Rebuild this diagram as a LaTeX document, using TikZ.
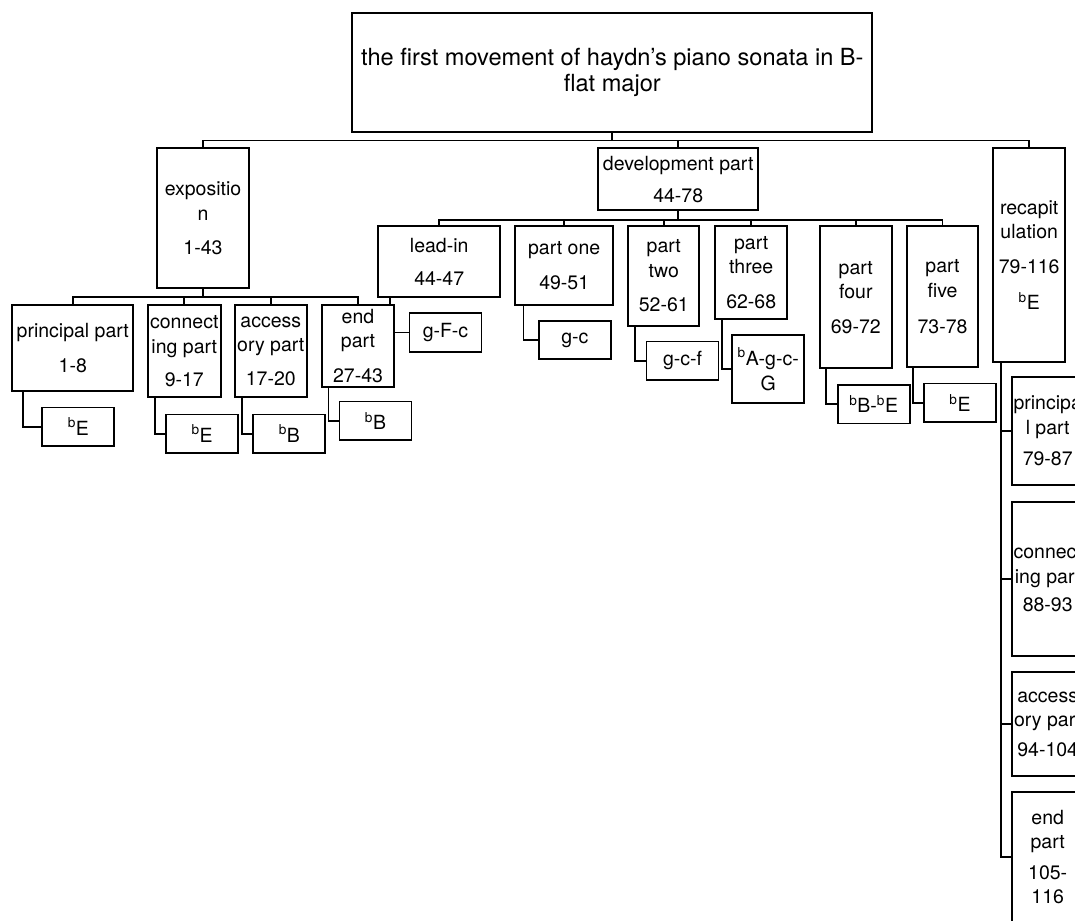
\documentclass[tikz,border=0pt]{standalone}
\usepackage{fontspec}
\setmainfont{TeX Gyre Heros}
\usetikzlibrary{backgrounds}
\tikzset{
    box/.style={draw, fill=white, line width=1.8pt, align=center, inner sep=0pt,
        font=\fontsize{19.5}{24.5}\selectfont},
    keybox/.style={box, minimum width=72pt, minimum height=38.5pt},
    link/.style={line width=1.8pt}}
\newcommand{\fl}[1]{\textsuperscript{b}#1}

\begin{document}
\begin{tikzpicture}[x=1pt, y=-1pt]
                
                    \path[use as bounding box] (0,0) rectangle (1075,920);
                    \clip (0,0) rectangle (1075,920);
                
                    \node[box, minimum width=520pt, minimum height=119pt, font=\fontsize{23.6}{26}\selectfont] (title) at (612.3,72.2) {the first movement of haydn’s piano sonata in B-\\flat major};
                    \node[box, minimum width=91.4pt, minimum height=140pt] (expo) at (203,218.3) {expositio\\n\\[10pt]1-43};
                    \node[box, minimum width=159.7pt, minimum height=62pt] (dev) at (678.2,179.3) {development part\\[8pt]44-78};
                    \node[box, minimum width=71.7pt, minimum height=213.4pt] (recap) at (1029.2,255) {recapit\\ulation\\[10pt]79-116\\[12pt]\fl{E}};
                
                    \node[box, minimum width=121pt, minimum height=86pt] (prin) at (72.8,348) {principal part\\[10pt]1-8};
                    \node[box, minimum width=72.7pt, minimum height=92.3pt] (conn) at (184.3,351.2) {connect\\ing part\\[9pt]9-17};
                    \node[box, minimum width=71.7pt, minimum height=92.3pt] (acc) at (270.8,351.2) {access\\ory part\\[9pt]17-20};
                    \node[box, minimum width=72pt, minimum height=81.7pt] (endp) at (358,345.8) {end\\part\\[10pt]27-43};
                    \node[keybox] (prinkey) at (78.3,426.7) {\fl{E}};
                    \node[keybox] (connkey) at (202.2,433.7) {\fl{E}};
                    \node[keybox] (acckey) at (289.3,433.7) {\fl{B}};
                    \node[keybox] (endkey) at (375.5,420.8) {\fl{B}};
                
                    \node[box, minimum width=121.7pt, minimum height=71.3pt] (lead) at (439.2,261.7) {lead-in\\[9pt]44-47};
                    \node[box, minimum width=98.3pt, minimum height=79pt] (one) at (564.2,265.5) {part one\\[10pt]49-51};
                    \node[box, minimum width=71pt, minimum height=99.7pt] (two) at (663.8,275.8) {part\\two\\[10pt]52-61};
                    \node[box, minimum width=72.3pt, minimum height=93pt] (three) at (751.2,272.5) {part\\three\\[10pt]62-68};
                    \node[box, minimum width=71.7pt, minimum height=142.3pt] (four) at (855.8,297.2) {part\\four\\[10pt]69-72};
                    \node[box, minimum width=71.6pt, minimum height=141.3pt] (five) at (942.5,296.7) {part\\five\\[12pt]73-78};
                    \node[keybox] (leadkey) at (445.5,332.5) {g-F-c};
                    \node[keybox] (onekey) at (574.8,340) {g-c};
                    \node[keybox] (twokey) at (682.5,360.8) {g-c-f};
                    \node[keybox, minimum height=68.3pt] (threekey) at (768.2,369.2) {\fl{A}-g-c-\\G};
                    \node[keybox] (fourkey) at (873.7,404.2) {\fl{B}-\fl{E}};
                    \node[keybox] (fivekey) at (960,402.8) {\fl{E}};
                
                    \node[box, minimum width=72pt, minimum height=107.7pt] (rprin) at (1047.7,431.2) {principa\\l part\\[7pt]79-87};
                    \node[box, minimum width=72pt, minimum height=154.3pt] (rconn) at (1047.7,578.8) {connect\\ing part\\[4pt]88-93};
                    \node[box, minimum width=72pt, minimum height=103.7pt] (racc) at (1047.7,724.2) {access\\ory part\\[5pt]94-104};
                    \node[box, minimum width=72pt, minimum height=130.6pt] (rend) at (1047.7,857) {end\\part\\[6pt]105-\\116};
                
                    \begin{scope}[on background layer]
                    \draw[link] (title.south) -- ++(0,8) -| (expo.north);
                    \draw[link] (title.south) -- ++(0,8) -| (dev.north);
                    \draw[link] (title.south) -- ++(0,8) -| (recap.north);
                
                    \draw[link] (expo.south) -- ++(0,8) -| (prin.north);
                    \draw[link] (expo.south) -- ++(0,8) -| (conn.north);
                    \draw[link] (expo.south) -- ++(0,8) -| (acc.north);
                    \draw[link] (expo.south) -- ++(0,8) -| (endp.north);
                    \draw[link] ([xshift=11.7pt]prin.south west) |- (prinkey.west);
                    \draw[link] ([xshift=7.7pt]conn.south west) |- (connkey.west);
                    \draw[link] ([xshift=7.7pt]acc.south west) |- (acckey.west);
                    \draw[link] ([xshift=7.3pt]endp.south west) |- (endkey.west);
                
                    \draw[link] (dev.south) -- ++(0,9) -| (lead.north);
                    \draw[link] (dev.south) -- ++(0,9) -| (one.north);
                    \draw[link] (dev.south) -- ++(0,9) -| (two.north);
                    \draw[link] (dev.south) -- ++(0,9) -| (three.north);
                    \draw[link] (dev.south) -- ++(0,9) -| (four.north);
                    \draw[link] (dev.south) -- ++(0,9) -| (five.north);
                    \draw[link] ([xshift=12.7pt]lead.south west) |- (leadkey.west);
                    \draw[link] ([xshift=9.3pt]one.south west) |- (onekey.west);
                    \draw[link] ([xshift=7.4pt]two.south west) |- (twokey.west);
                    \draw[link] ([xshift=7.7pt]three.south west) |- (threekey.west);
                    \draw[link] ([xshift=7.3pt]four.south west) |- (fourkey.west);
                    \draw[link] ([xshift=7.3pt]five.south west) |- (fivekey.west);
                
                    \draw[link] ([xshift=8.4pt]recap.south west) |- (rprin.west);
                    \draw[link] ([xshift=8.4pt]recap.south west) |- (rconn.west);
                    \draw[link] ([xshift=8.4pt]recap.south west) |- (racc.west);
                    \draw[link] ([xshift=8.4pt]recap.south west) |- (rend.west);
                    \end{scope}
            
                \end{tikzpicture}
\end{document}
